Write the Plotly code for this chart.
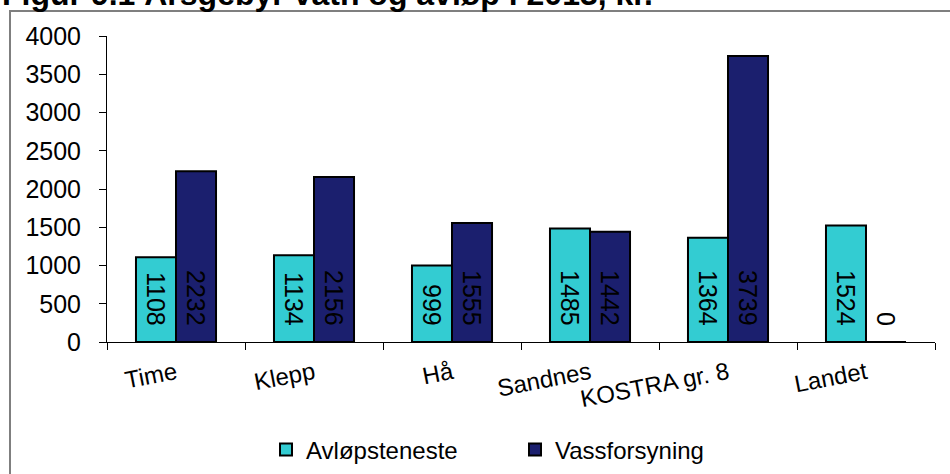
import plotly.graph_objects as go

categories = ["Time", "Klepp", "Hå", "Sandnes", "KOSTRA gr. 8", "Landet"]
avlop = [1108, 1134, 999, 1485, 1364, 1524]
vass = [2232, 2156, 1555, 1442, 3739, 0]
series_names = ["Avløpsteneste", "Vassforsyning"]
y_ticks = [0, 500, 1000, 1500, 2000, 2500, 3000, 3500, 4000]
title_text = "Figur 9.1 Årsgebyr vatn og avløp i 2013, kr."

FONT = "Liberation Sans, Arial, sans-serif"
W, H = 950, 474
ML, MR, MT, MB = 107, 15, 36, 132
PW, PH = W - ML - MR, H - MT - MB

def px_x(p):
    return (p - ML) / PW

def px_y(p):
    return (H - MB - p) / PH

fig = go.Figure()
fig.add_trace(go.Bar(x=categories, y=avlop, name=series_names[0],
                     marker=dict(color="#33CCD2", line=dict(color="black", width=2))))
fig.add_trace(go.Bar(x=categories, y=vass, name=series_names[1],
                     marker=dict(color="#1B1F6E", line=dict(color="black", width=2))))

annotations = []
for vals, shift in ((avlop, -20), (vass, 20)):
    for c, v in zip(categories, vals):
        annotations.append(dict(x=c, y=0, xref="x", yref="y", text=str(v),
                                textangle=90, showarrow=False, xshift=shift,
                                yanchor="bottom", yshift=14,
                                font=dict(family=FONT, size=25, color="black")))

annotations.append(dict(x=px_x(0), y=px_y(14), xref="paper", yref="paper",
                        xanchor="left", yanchor="bottom", showarrow=False,
                        text="<b>" + title_text + "</b>",
                        font=dict(family=FONT, size=32, color="black")))

fig.update_layout(
    width=W, height=H,
    margin=dict(l=ML, r=MR, t=MT, b=MB, pad=0, autoexpand=False),
    paper_bgcolor="white", plot_bgcolor="white",
    barmode="group", bargap=0.42, bargroupgap=0,
    font=dict(family=FONT, size=24, color="black"),
    annotations=annotations,
    shapes=[dict(type="rect", xref="paper", yref="paper",
                 x0=px_x(10), x1=px_x(990), y0=px_y(520), y1=px_y(11),
                 line=dict(color="#7F7F7F", width=2), fillcolor="rgba(0,0,0,0)",
                 layer="below")],
    legend=dict(orientation="h", x=px_x(266), y=px_y(450), xanchor="left", yanchor="middle",
                font=dict(family=FONT, size=24), itemwidth=30, entrywidth=204,
                bgcolor="rgba(0,0,0,0)"),
    xaxis=dict(showline=True, linecolor="black", linewidth=1, ticks="outside",
               tickson="boundaries", ticklen=7, tickcolor="black", tickangle=-11,
               tickfont=dict(family=FONT, size=24), showgrid=False, zeroline=False,
               ticklabelstandoff=7),
    yaxis=dict(range=[0, 4000], tickvals=y_ticks, showline=True, linecolor="black",
               linewidth=1, ticks="outside", ticklen=7, tickcolor="black",
               tickfont=dict(family=FONT, size=25), showgrid=False, zeroline=False,
               ticklabelstandoff=13),
)

fig.write_html("out.html", config={"displayModeBar": False},
               post_script="document.body.style.margin='0';document.body.style.overflow='hidden';")
